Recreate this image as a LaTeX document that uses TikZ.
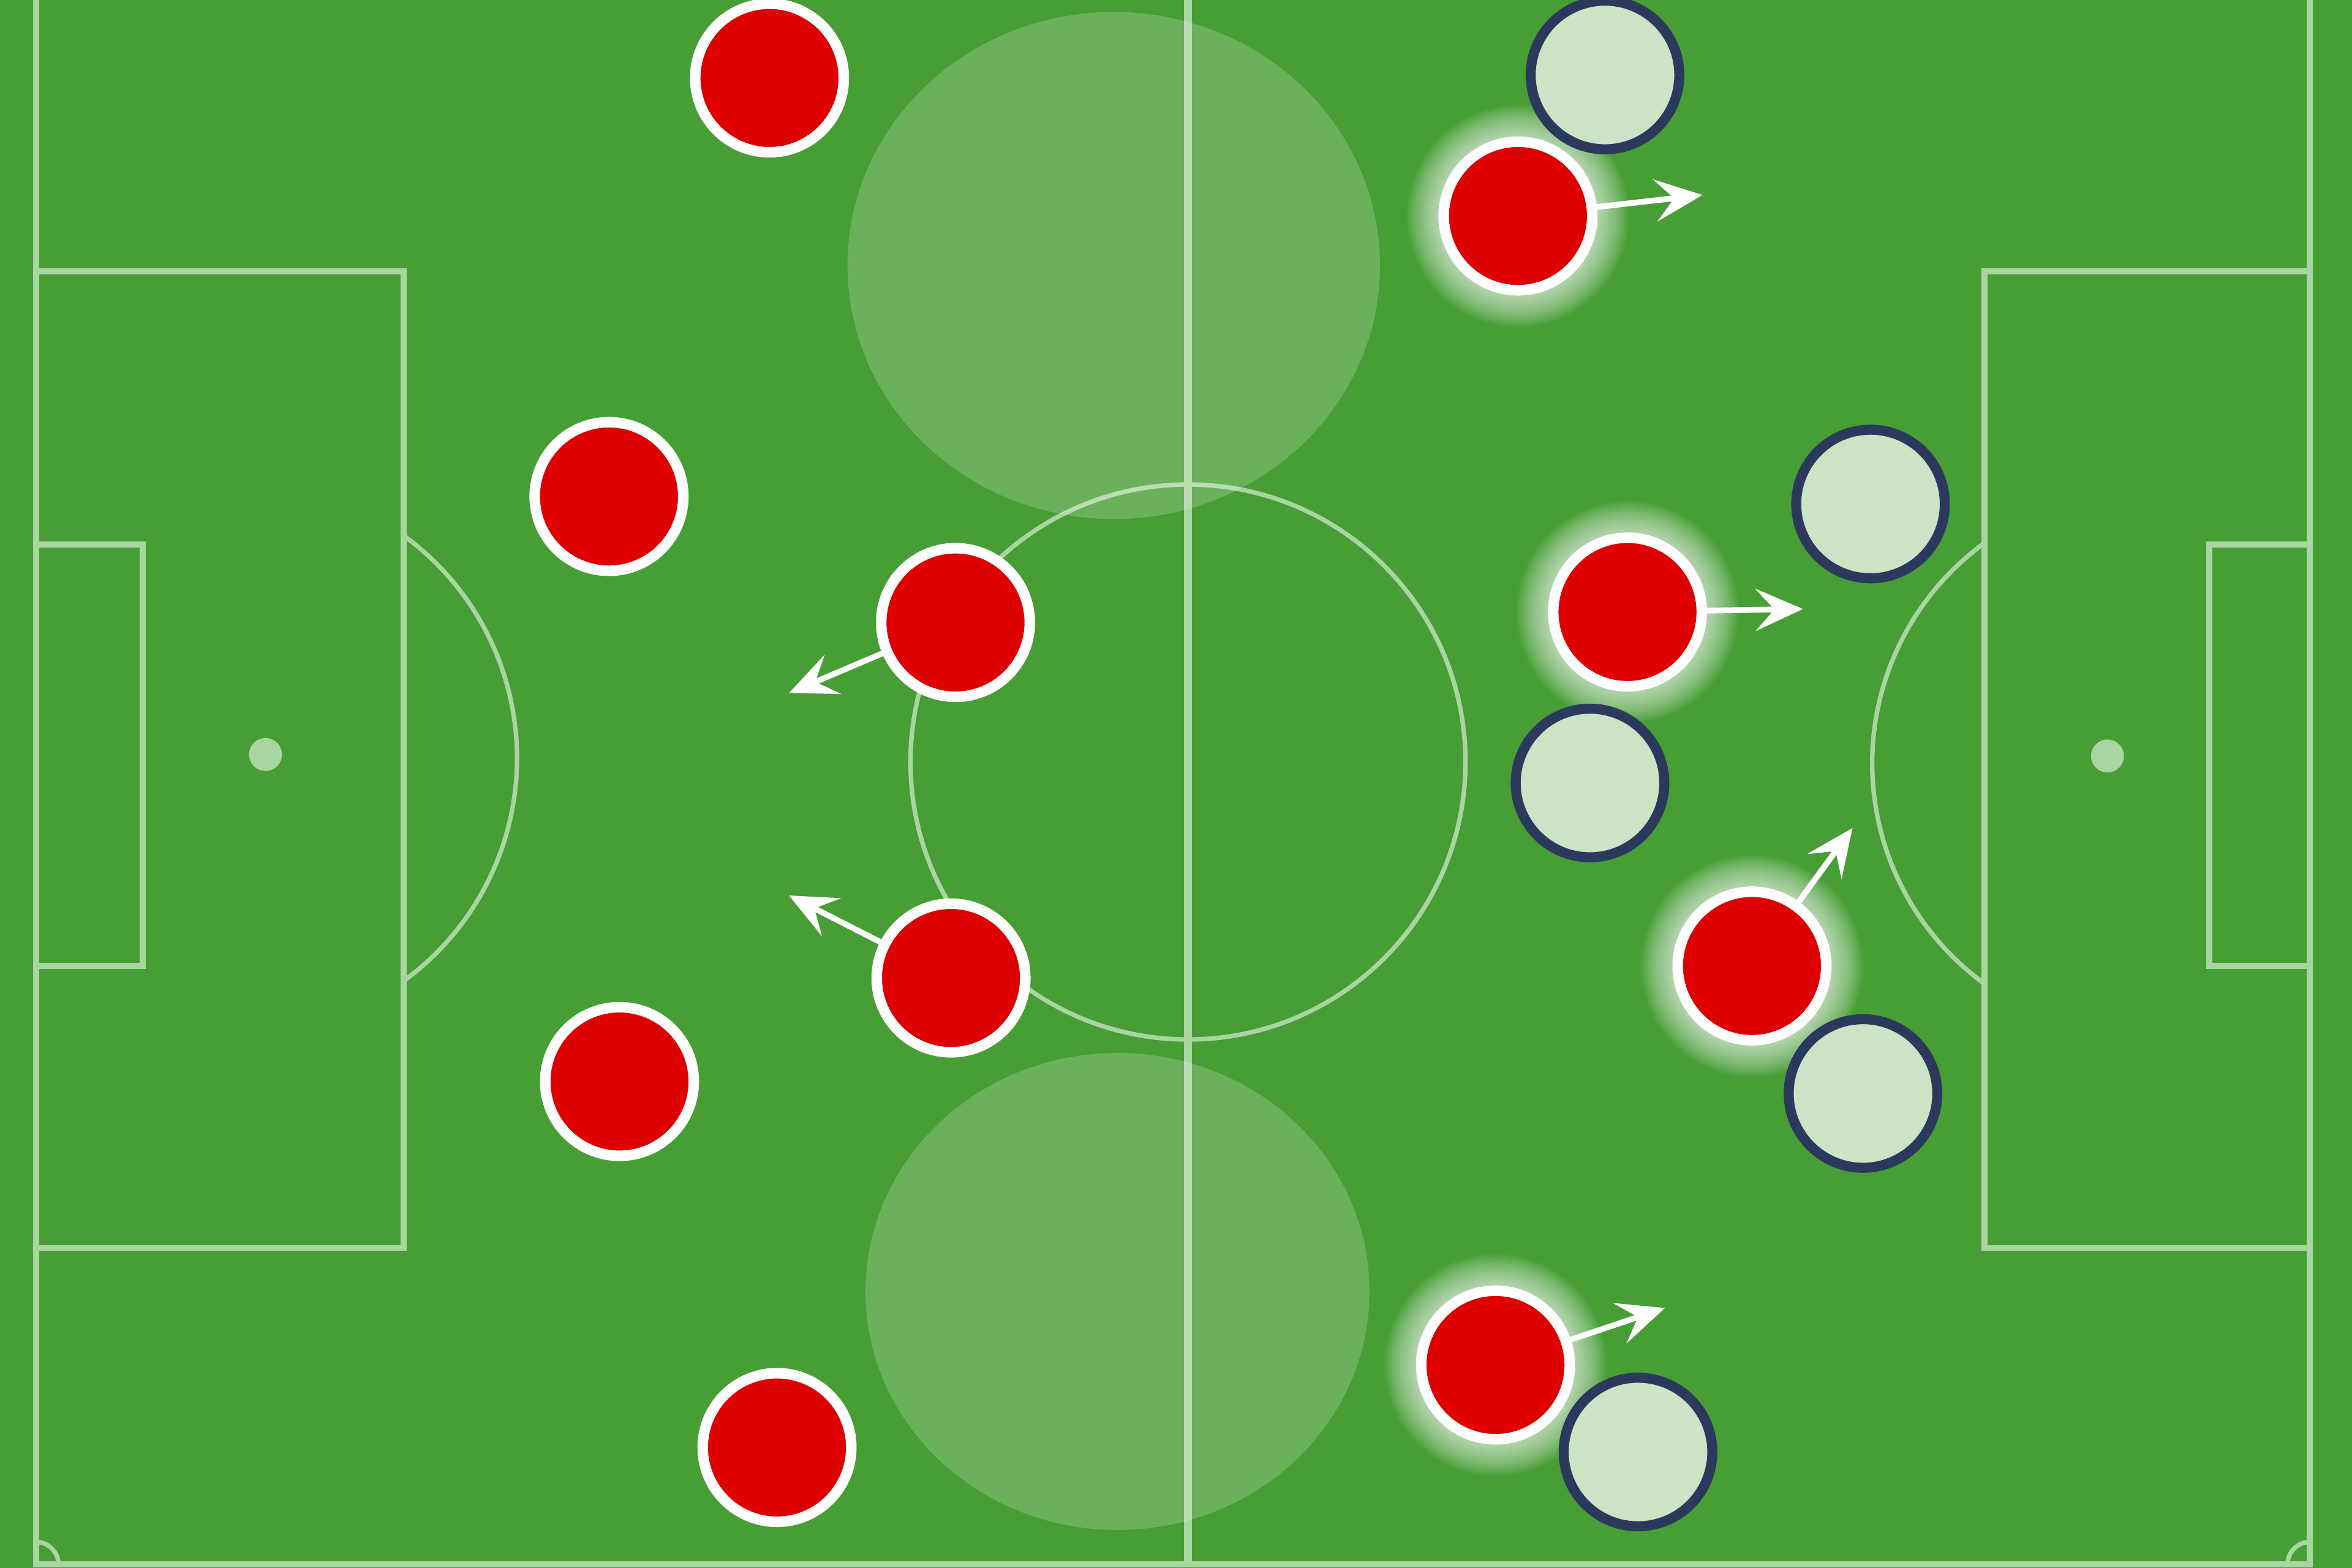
\documentclass[tikz,border=0pt]{standalone}
\usetikzlibrary{arrows.meta}
\definecolor{pitch}{HTML}{469E34}
\definecolor{chalk}{HTML}{A9D5A1}
\definecolor{homered}{HTML}{DE0000}
\definecolor{awayfill}{HTML}{CAE4C5}
\definecolor{awayline}{HTML}{2B3A5C}
\begin{document}
\begin{tikzpicture}[x=0.01cm,y=-0.01cm,
	chalkline/.style={draw=chalk,line width=1.15pt},
	thinchalk/.style={draw=chalk,line width=0.85pt},
	home/.style={circle,fill=homered,draw=white,line width=2pt,minimum size=0.99cm,inner sep=0pt},
	away/.style={circle,fill=awayfill,draw=awayline,line width=1.9pt,minimum size=0.99cm,inner sep=0pt},
	run/.style={draw=white,line width=1.1pt,-{Stealth[length=9pt,width=8pt,inset=3.6pt]}}]
	\useasboundingbox (0,0) rectangle (1568,1045.33);
	\fill[pitch] (0,0) rectangle (1568,1045.33);
	\draw[chalkline] (24,-5)--(24,1043)--(1540,1043)--(1540,-5);
	\draw[chalkline] (24,181) rectangle (269,832) (24,363) rectangle (95,644);
	\draw[chalkline] (1540,181) rectangle (1323,832) (1540,363) rectangle (1473,644);
	\draw[thinchalk] (269,357) arc[start angle=-54,end angle=54,radius=183.6];
	\draw[thinchalk] (1323,362) arc[start angle=-126,end angle=-234,radius=181.6];
	\draw[thinchalk] (792,508) circle (185);
	\draw[thinchalk] (24,1028) arc[start angle=-90,end angle=0,radius=15] (1525,1043) arc[start angle=180,end angle=270,radius=15];
	\fill[chalk] (177,503) circle (11) (1405,504) circle (11);
	\draw[chalk,line width=1.6pt] (792,-5)--(792,1043);
	\fill[white,opacity=.2] (742.5,177) ellipse (177.5 and 169) (745,861) ellipse (168 and 159);
	\foreach \g in {(1012,144),(1085,408),(1168,644),(997,910)}
		\foreach \r in {53,...,74}
			\fill[white,opacity=.045] \g circle (\r);
	\node[home] (h1) at (513,52) {};
	\node[home] (h2) at (406,331) {};
	\node[home] (h3) at (637,415) {};
	\node[home] (h4) at (634,652) {};
	\node[home] (h5) at (413,721) {};
	\node[home] (h6) at (518,965) {};
	\node[home] (h7) at (1012,144) {};
	\node[home] (h8) at (1085,408) {};
	\node[home] (h9) at (1168,644) {};
	\node[home] (h10) at (997,910) {};
	\node[away] (a1) at (1070,50) {};
	\node[away] (a2) at (1247,336) {};
	\node[away] (a3) at (1060,522) {};
	\node[away] (a4) at (1242,729) {};
	\node[away] (a5) at (1092,968) {};
	\coordinate (t3) at (526,462);
	\coordinate (t4) at (526,597);
	\coordinate (t7) at (1135,130);
	\coordinate (t8) at (1202,406);
	\coordinate (t9) at (1235,552);
	\coordinate (t10) at (1110,872);
	\draw[run] (h3)--(t3);
	\draw[run] (h4)--(t4);
	\draw[run] (h7)--(t7);
	\draw[run] (h8)--(t8);
	\draw[run] (h9)--(t9);
	\draw[run] (h10)--(t10);
\end{tikzpicture}
\end{document}
